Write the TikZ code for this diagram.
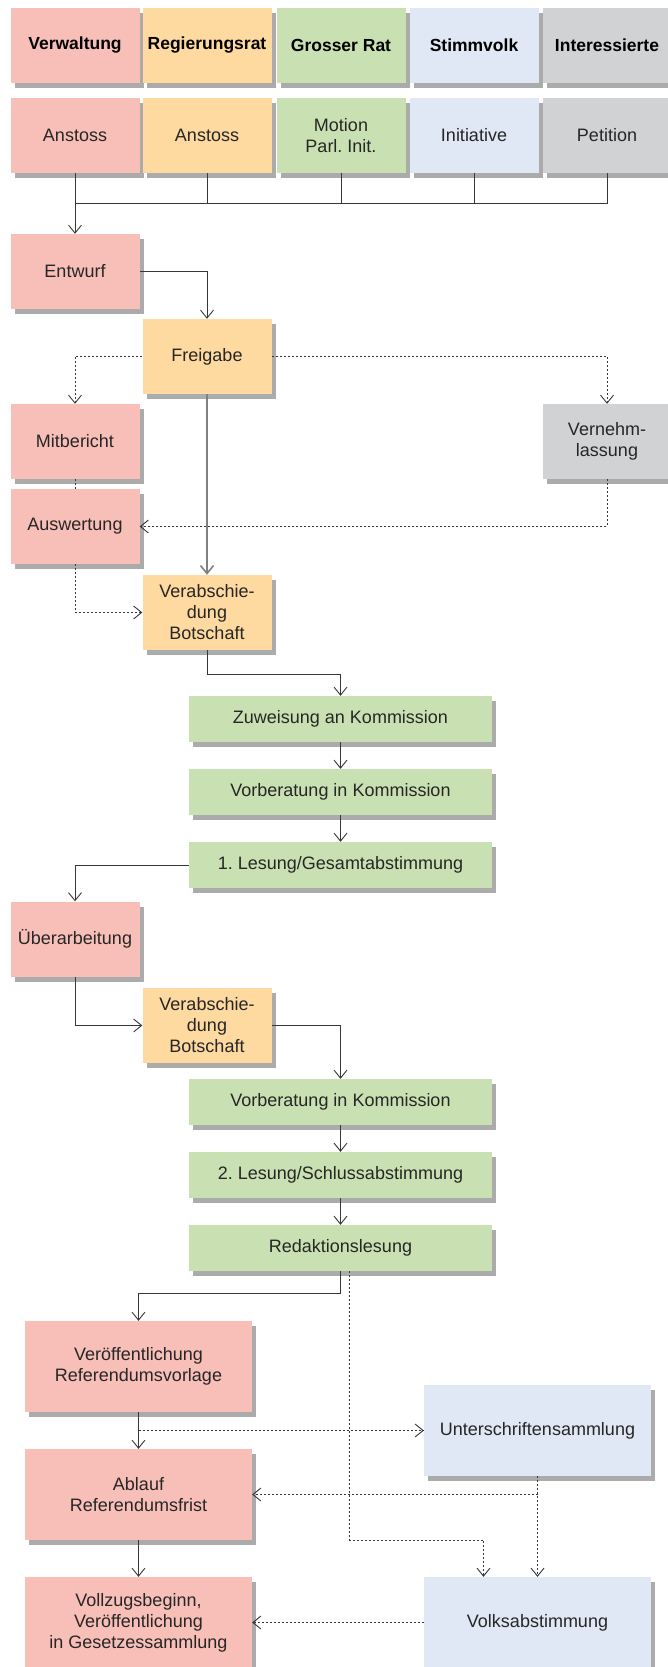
\documentclass[tikz,border=0pt]{standalone}
\usepackage{fontspec}
\setmainfont{Liberation Sans}
\usetikzlibrary{arrows.meta}
\usetikzlibrary{shadows}
\definecolor{verw}{RGB}{248,191,184}
\definecolor{regr}{RGB}{254,217,160}
\definecolor{grat}{RGB}{201,225,178}
\definecolor{volk}{RGB}{224,231,245}
\definecolor{inter}{RGB}{209,210,212}
\definecolor{linie}{RGB}{55,55,55}

\begin{document}
\begin{tikzpicture}[x=1pt,y=-1pt]
      \tikzstyle{every node}=[rectangle,inner sep=0pt,align=center,text=black!85,font=\fontsize{18}{21}\selectfont]
      \tikzstyle{box}=[minimum width=129pt,minimum height=75pt,drop shadow={shadow xshift=4pt,shadow yshift=-5pt,fill=black,opacity=0.33}]
      \tikzstyle{lang}=[box,minimum width=303pt,minimum height=46pt]
      \tikzstyle{gross}=[box,minimum width=227pt,minimum height=91pt]
      \tikzstyle{kopf}=[box,text=black,font=\fontsize{17.5}{21}\bfseries\selectfont]
      \tikzstyle{lin}=[draw=linie,line width=0.9pt]
      \tikzstyle{pfeil}=[lin,-{Straight Barb[length=8pt,width=13pt]}]
      \tikzstyle{punkt}=[dash pattern=on 2pt off 2pt]
      \useasboundingbox (0,0) rectangle (667,1667);

      % Kopfzeile
      \node[kopf,fill=verw]  (h1) at (75,45.5)  {Verwaltung};
      \node[kopf,fill=regr]  (h2) at (207,45.5) {Regierungsrat};
      \node[kopf,fill=grat]  (h3) at (341,45.5) {Grosser Rat};
      \node[kopf,fill=volk]  (h4) at (474,45.5) {Stimmvolk};
      \node[kopf,fill=inter] (h5) at (607,45.5) {Interessierte};

      \node[box,fill=verw]  (s1) at (75,135.5)  {Anstoss};
      \node[box,fill=regr]  (s2) at (207,135.5) {Anstoss};
      \node[box,fill=grat]  (s3) at (341,135.5) {Motion\\Parl.\ Init.};
      \node[box,fill=volk]  (s4) at (474,135.5) {Initiative};
      \node[box,fill=inter] (s5) at (607,135.5) {Petition};

      % Vorverfahren
      \node[box,fill=verw]  (entw)   at (75,271.5)  {Entwurf};
      \node[box,fill=regr]  (freig)  at (207,356.5) {Freigabe};
      \node[box,fill=verw]  (mitb)   at (75,441.5)  {Mitbericht};
      \node[box,fill=inter] (vern)   at (607,441.5) {Vernehm-\\lassung};
      \node[box,fill=verw]  (ausw)   at (75,526.5)  {Auswertung};
      \node[box,fill=regr]  (verab1) at (207,612.5) {Verabschie-\\dung\\Botschaft};

      % Parlament
      \node[lang,fill=grat] (zuw)   at (340.5,719)  {Zuweisung an Kommission};
      \node[lang,fill=grat] (vorb1) at (340.5,792)  {Vorberatung in Kommission};
      \node[lang,fill=grat] (les1)  at (340.5,865)  {1.\ Lesung/Gesamtabstimmung};
      \node[box,fill=verw]  (ueb)    at (75,939)     {Überarbeitung};
      \node[box,fill=regr]  (verab2) at (207,1025.5) {Verabschie-\\dung\\Botschaft};
      \node[lang,fill=grat] (vorb2) at (340.5,1102) {Vorberatung in Kommission};
      \node[lang,fill=grat] (les2)  at (340.5,1175) {2.\ Lesung/Schlussabstimmung};
      \node[lang,fill=grat] (red)   at (340.5,1248) {Redaktionslesung};

      % Referendum
      \node[gross,fill=verw] (veroe)  at (138.5,1366.5) {Veröffentlichung\\Referendumsvorlage};
      \node[gross,fill=volk] (unter)  at (537.5,1430.5) {Unterschriftensammlung};
      \node[gross,fill=verw] (ablauf) at (138.5,1494.5) {Ablauf\\Referendumsfrist};
      \node[gross,fill=verw] (vollz)  at (138.5,1622.5) {Vollzugsbeginn,\\Veröffentlichung\\in Gesetzessammlung};
      \node[gross,fill=volk] (volks)  at (537.5,1622.5) {Volksabstimmung};

      \coordinate (bus) at (75,203);
      \draw[pfeil] (s1) -- (entw);
      \draw[lin] (s5.south) |- (bus);
      \foreach \n in {s2,s3,s4} \draw[lin] (\n.south) -- (\n.south |- bus);

      \draw[pfeil] (entw.east) -| (freig.north);
      \draw[pfeil,punkt] (freig.west) -| (mitb.north);
      \draw[pfeil,punkt] (freig.east) -| (vern.north);
      \draw[lin,punkt] (mitb) -- (ausw);
      \draw[pfeil,punkt] (vern.south) |- (ausw.east);
      \draw[pfeil,draw=gray,line width=1.6pt] (freig) -- (verab1);
      \draw[pfeil,punkt] (ausw.south) |- (verab1.west);
      \draw[pfeil] (verab1.south) -- ++(0,24) -| (zuw.north);
      \draw[pfeil] (zuw) -- (vorb1);
      \draw[pfeil] (vorb1) -- (les1);
      \draw[pfeil] (les1.west) -| (ueb.north);
      \draw[pfeil] (ueb.south) |- (verab2.west);
      \draw[pfeil] (verab2.east) -| (vorb2.north);
      \draw[pfeil] (vorb2) -- (les2);
      \draw[pfeil] (les2) -- (red);
      \draw[pfeil] (red.south) -- ++(0,22) -| (veroe.north);
      \draw[pfeil,punkt] ([xshift=9pt]red.south) |- ([xshift=-54pt]volks.north |- ablauf.south) -- ([xshift=-54pt]volks.north);

      \draw[pfeil] (veroe) -- (ablauf);
      \draw[pfeil,punkt] (veroe.south |- unter.west) -- (unter.west);
      \draw[pfeil,punkt] (unter) -- (volks);
      \draw[pfeil,punkt] (unter.south |- ablauf.east) -- (ablauf.east);
      \draw[pfeil] (ablauf) -- (vollz);
      \draw[pfeil,punkt] (volks) -- (vollz);
    \end{tikzpicture}
\end{document}
